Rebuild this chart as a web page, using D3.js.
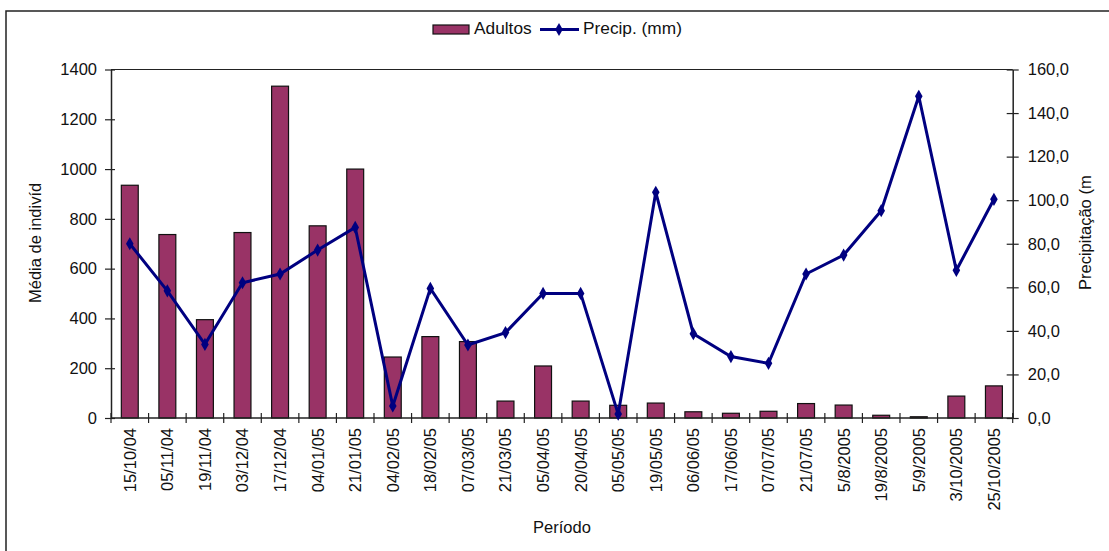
<!DOCTYPE html>
<html><head><meta charset="utf-8">
<script src="https://cdn.jsdelivr.net/npm/d3@7"></script>
<style>
html,body{margin:0;padding:0;background:#fff;}
svg{display:block;font-family:"Liberation Sans",Arial,sans-serif;}
</style></head>
<body>
<svg id="chart" width="1109" height="551"></svg>
<script>
const categories = ["15/10/04","05/11/04","19/11/04","03/12/04","17/12/04","04/01/05","21/01/05","04/02/05","18/02/05","07/03/05","21/03/05","05/04/05","20/04/05","05/05/05","19/05/05","06/06/05","17/06/05","07/07/05","21/07/05","5/8/2005","19/8/2005","5/9/2005","3/10/2005","25/10/2005"];
const adultos = [935,737,395,745,1333,772,1000,245,327,307,68,209,68,51,60,25,19,27,58,52,11,5,88,129];
const precip = [80.0,58.4,33.8,62.1,66.1,77.1,87.5,5.5,59.5,33.5,39.2,57.2,57.2,1.8,103.6,38.7,28.2,25.1,66.1,74.8,95.2,147.7,67.8,100.4];
const leftTicks = [0,200,400,600,800,1000,1200,1400];
const rightTicks = [0,20,40,60,80,100,120,140,160];

const svg = d3.select("#chart");
const L = 111, R = 1012.7, T = 69.5, B = 418;
const fs = 16.5;
const ff = "Liberation Sans, Arial, sans-serif";

// outer border
svg.append("path").attr("d","M6,560 L6,11 L1120,11").attr("fill","none").attr("stroke","#222").attr("stroke-width",1.5);

const x = d3.scaleBand().domain(categories).range([L,R]).padding(0);
const yL = d3.scaleLinear().domain([0,1400]).range([B,T]);
const yR = d3.scaleLinear().domain([0,160]).range([B,T]);

// plot top line
svg.append("line").attr("x1",L).attr("x2",R).attr("y1",T).attr("y2",T).attr("stroke","#222").attr("stroke-width",1.2);

// bars
const bw = x.bandwidth()*0.45;
svg.append("g").selectAll("rect").data(adultos).join("rect")
  .attr("x",(d,i)=>x(categories[i])+x.bandwidth()/2-bw/2)
  .attr("y",d=>yL(d))
  .attr("width",bw)
  .attr("height",d=>B-yL(d))
  .attr("fill","#993366").attr("stroke","#111").attr("stroke-width",1.2);

// left axis
const gL = svg.append("g").attr("transform",`translate(${L},0)`)
  .call(d3.axisLeft(yL).tickValues(leftTicks).tickSize(0).tickPadding(14).tickFormat(d3.format("d")));
gL.attr("font-family",ff).attr("font-size",fs);
gL.select(".domain").attr("stroke","#222").attr("stroke-width",1.5);
gL.selectAll(".tick text").attr("fill","#111");
gL.selectAll(".tick").append("line").attr("x1",-6).attr("x2",4).attr("stroke","#222").attr("stroke-width",1.2);

// right axis
const gR = svg.append("g").attr("transform",`translate(${R},0)`)
  .call(d3.axisRight(yR).tickValues(rightTicks).tickSize(0).tickPadding(15).tickFormat(d=>d3.format(".1f")(d).replace(".",",")));
gR.attr("font-family",ff).attr("font-size",fs);
gR.select(".domain").attr("stroke","#222").attr("stroke-width",1.5);
gR.selectAll(".tick text").attr("fill","#111");
gR.selectAll(".tick").append("line").attr("x1",-6).attr("x2",6).attr("stroke","#222").attr("stroke-width",1.2);

// x axis
svg.append("line").attr("x1",L).attr("x2",R).attr("y1",B).attr("y2",B).attr("stroke","#222").attr("stroke-width",1.5);
const bounds = categories.map(c=>x(c)).concat([R]);
svg.append("g").selectAll("line").data(bounds).join("line")
  .attr("x1",d=>d).attr("x2",d=>d).attr("y1",B-5).attr("y2",B+5)
  .attr("stroke","#222").attr("stroke-width",1.2);
svg.append("g").selectAll("text").data(categories).join("text")
  .attr("transform",d=>`translate(${x(d)+x.bandwidth()/2},428) rotate(-90)`)
  .attr("text-anchor","end").attr("dy","0.36em")
  .attr("font-size",fs).attr("fill","#111").text(d=>d);

// precip line
const line = d3.line().x((d,i)=>x(categories[i])+x.bandwidth()/2).y(d=>yR(d));
svg.append("path").datum(precip).attr("d",line).attr("fill","none").attr("stroke","#000080").attr("stroke-width",3).attr("stroke-linejoin","miter");
const diamond = d3.symbol().type(d3.symbolDiamond).size(50);
svg.append("g").selectAll("path").data(precip).join("path")
  .attr("d",diamond)
  .attr("transform",(d,i)=>`translate(${x(categories[i])+x.bandwidth()/2},${yR(d)})`)
  .attr("fill","#000080");

// axis titles (clipped)
const defs = svg.append("defs");
defs.append("clipPath").attr("id","clipL").append("rect").attr("x",0).attr("y",183).attr("width",80).attr("height",200);
defs.append("clipPath").attr("id","clipR").append("rect").attr("x",1060).attr("y",176).attr("width",60).attr("height",200);
svg.append("g").attr("clip-path","url(#clipL)").append("text")
  .attr("transform","translate(41,303) rotate(-90)")
  .attr("text-anchor","start").attr("font-size",fs).attr("fill","#111").text("Média de indivíduos");
svg.append("g").attr("clip-path","url(#clipR)").append("text")
  .attr("transform","translate(1091,290) rotate(-90)")
  .attr("text-anchor","start").attr("font-size",fs).attr("fill","#111").text("Precipitação (mm)");

svg.append("text").attr("x",562).attr("y",533).attr("text-anchor","middle").attr("font-size",fs).attr("fill","#111").text("Período");

// legend
const lfs = 17.3;
const lg = svg.append("g");
lg.append("rect").attr("x",433).attr("y",25).attr("width",36).attr("height",9).attr("fill","#993366").attr("stroke","#111").attr("stroke-width",1.2);
lg.append("text").attr("x",474).attr("y",34).attr("font-size",lfs).attr("fill","#111").text("Adultos");
lg.append("line").attr("x1",540).attr("x2",579).attr("y1",29.5).attr("y2",29.5).attr("stroke","#000080").attr("stroke-width",3);
lg.append("path").attr("d",diamond).attr("transform","translate(559,29.5)").attr("fill","#000080");
lg.append("text").attr("x",583).attr("y",34).attr("font-size",lfs).attr("fill","#111").text("Precip. (mm)");
</script>
</body></html>
